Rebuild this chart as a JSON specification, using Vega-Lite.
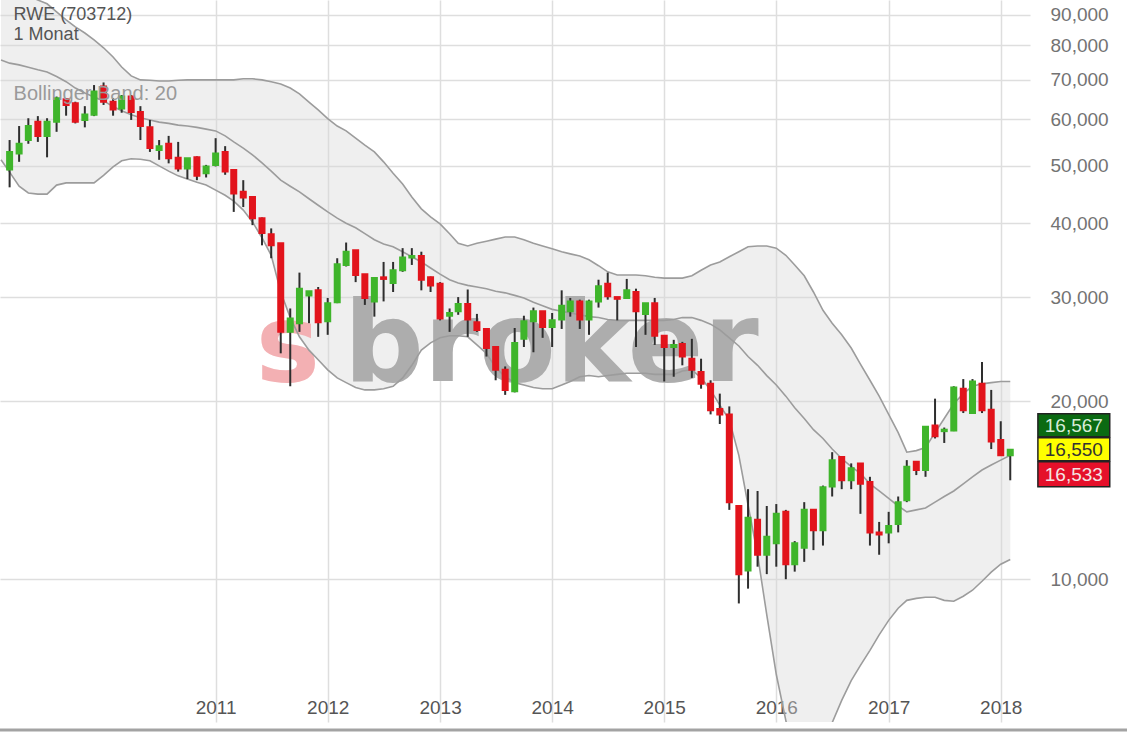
{
"$schema": "https://vega.github.io/schema/vega-lite/v6.json",
"width": 1030, "height": 722,
"autosize": {"type": "none"},
"padding": {"left": 0, "top": 0, "right": 97, "bottom": 10},
"background": "white",
"config": {"view": {"stroke": null}, "font": "Liberation Sans"},
"datasets": {
"candles": [
{"d":"2009-03-01","o":49.3,"h":55.3,"l":46.0,"c":52.8},
{"d":"2009-04-01","o":52.5,"h":58.4,"l":50.8,"c":54.5},
{"d":"2009-05-01","o":55.3,"h":60.2,"l":54.5,"c":58.4},
{"d":"2009-06-01","o":59.4,"h":60.7,"l":54.9,"c":56.2},
{"d":"2009-07-01","o":56.2,"h":60.2,"l":51.7,"c":59.4},
{"d":"2009-08-01","o":59.4,"h":65.5,"l":57.1,"c":65.1},
{"d":"2009-09-01","o":64.8,"h":65.1,"l":60.8,"c":63.4},
{"d":"2009-10-01","o":63.8,"h":64.2,"l":59.0,"c":59.4},
{"d":"2009-11-01","o":59.8,"h":63.1,"l":58.1,"c":61.1},
{"d":"2009-12-01","o":61.0,"h":68.5,"l":60.7,"c":66.8},
{"d":"2010-01-01","o":68.1,"h":69.2,"l":63.4,"c":64.2},
{"d":"2010-02-01","o":64.2,"h":65.1,"l":60.8,"c":62.3},
{"d":"2010-03-01","o":62.5,"h":65.9,"l":61.5,"c":65.5},
{"d":"2010-04-01","o":65.5,"h":65.9,"l":59.8,"c":61.7},
{"d":"2010-05-01","o":61.7,"h":63.1,"l":55.3,"c":58.4},
{"d":"2010-06-01","o":58.1,"h":59.8,"l":52.8,"c":53.6},
{"d":"2010-07-01","o":53.2,"h":55.3,"l":51.2,"c":54.0},
{"d":"2010-08-01","o":54.5,"h":56.2,"l":50.5,"c":51.5},
{"d":"2010-09-01","o":51.6,"h":54.9,"l":48.9,"c":49.5},
{"d":"2010-10-01","o":49.5,"h":51.5,"l":47.5,"c":51.5},
{"d":"2010-11-01","o":51.7,"h":51.9,"l":47.3,"c":48.1},
{"d":"2010-12-01","o":48.6,"h":50.2,"l":47.8,"c":49.9},
{"d":"2011-01-01","o":50.2,"h":55.7,"l":49.9,"c":52.5},
{"d":"2011-02-01","o":52.8,"h":54.0,"l":48.3,"c":48.9},
{"d":"2011-03-01","o":49.2,"h":49.2,"l":41.8,"c":44.9},
{"d":"2011-04-01","o":45.2,"h":47.3,"l":42.6,"c":44.2},
{"d":"2011-05-01","o":44.3,"h":44.4,"l":39.7,"c":40.8},
{"d":"2011-06-01","o":40.8,"h":40.9,"l":36.7,"c":38.5},
{"d":"2011-07-01","o":38.3,"h":39.2,"l":34.9,"c":36.7},
{"d":"2011-08-01","o":37.0,"h":37.0,"l":24.1,"c":26.2},
{"d":"2011-09-01","o":26.2,"h":28.7,"l":21.2,"c":27.6},
{"d":"2011-10-01","o":27.1,"h":33.0,"l":26.2,"c":31.0},
{"d":"2011-11-01","o":30.2,"h":30.7,"l":27.1,"c":30.7},
{"d":"2011-12-01","o":30.8,"h":31.2,"l":25.7,"c":27.2},
{"d":"2012-01-01","o":27.3,"h":29.9,"l":25.9,"c":29.3},
{"d":"2012-02-01","o":29.4,"h":34.9,"l":29.3,"c":34.1},
{"d":"2012-03-01","o":34.0,"h":37.1,"l":33.8,"c":35.8},
{"d":"2012-04-01","o":36.0,"h":36.0,"l":31.8,"c":32.7},
{"d":"2012-05-01","o":32.8,"h":32.8,"l":29.1,"c":29.9},
{"d":"2012-06-01","o":29.5,"h":32.3,"l":27.8,"c":32.3},
{"d":"2012-07-01","o":32.4,"h":34.4,"l":29.5,"c":32.2},
{"d":"2012-08-01","o":31.7,"h":34.4,"l":30.6,"c":33.3},
{"d":"2012-09-01","o":33.3,"h":36.3,"l":33.1,"c":35.0},
{"d":"2012-10-01","o":35.0,"h":36.3,"l":34.0,"c":35.2},
{"d":"2012-11-01","o":35.2,"h":35.8,"l":30.8,"c":32.1},
{"d":"2012-12-01","o":32.4,"h":32.5,"l":30.6,"c":31.4},
{"d":"2013-01-01","o":31.6,"h":31.8,"l":27.4,"c":27.6},
{"d":"2013-02-01","o":27.9,"h":28.7,"l":26.2,"c":28.2},
{"d":"2013-03-01","o":28.4,"h":30.0,"l":28.0,"c":29.2},
{"d":"2013-04-01","o":29.2,"h":30.9,"l":25.7,"c":27.5},
{"d":"2013-05-01","o":27.2,"h":28.1,"l":26.2,"c":26.4},
{"d":"2013-06-01","o":26.5,"h":26.5,"l":23.8,"c":24.6},
{"d":"2013-07-01","o":24.7,"h":24.8,"l":21.7,"c":22.6},
{"d":"2013-08-01","o":22.6,"h":22.9,"l":20.5,"c":20.9},
{"d":"2013-09-01","o":20.8,"h":26.6,"l":20.7,"c":25.1},
{"d":"2013-10-01","o":25.5,"h":27.9,"l":24.7,"c":27.3},
{"d":"2013-11-01","o":27.3,"h":28.8,"l":24.2,"c":28.4},
{"d":"2013-12-01","o":28.4,"h":28.4,"l":25.6,"c":26.7},
{"d":"2014-01-01","o":26.7,"h":28.2,"l":24.7,"c":27.4},
{"d":"2014-02-01","o":27.5,"h":30.8,"l":26.5,"c":29.0},
{"d":"2014-03-01","o":28.4,"h":29.9,"l":27.8,"c":29.5},
{"d":"2014-04-01","o":29.5,"h":29.7,"l":26.5,"c":27.5},
{"d":"2014-05-01","o":27.5,"h":29.7,"l":25.9,"c":29.5},
{"d":"2014-06-01","o":29.5,"h":32.1,"l":28.8,"c":31.3},
{"d":"2014-07-01","o":31.6,"h":33.0,"l":29.7,"c":30.1},
{"d":"2014-08-01","o":30.0,"h":30.0,"l":27.4,"c":29.8},
{"d":"2014-09-01","o":29.9,"h":32.2,"l":29.8,"c":30.8},
{"d":"2014-10-01","o":30.6,"h":31.0,"l":24.7,"c":28.4},
{"d":"2014-11-01","o":28.1,"h":29.3,"l":25.9,"c":29.3},
{"d":"2014-12-01","o":29.3,"h":29.9,"l":24.9,"c":25.8},
{"d":"2015-01-01","o":25.8,"h":25.8,"l":21.6,"c":24.7},
{"d":"2015-02-01","o":24.7,"h":25.4,"l":22.0,"c":24.9},
{"d":"2015-03-01","o":25.0,"h":25.2,"l":23.0,"c":23.8},
{"d":"2015-04-01","o":23.6,"h":25.5,"l":21.9,"c":22.6},
{"d":"2015-05-01","o":22.4,"h":23.6,"l":21.0,"c":21.4},
{"d":"2015-06-01","o":21.4,"h":21.7,"l":19.0,"c":19.3},
{"d":"2015-07-01","o":19.4,"h":20.6,"l":18.3,"c":19.0},
{"d":"2015-08-01","o":19.0,"h":19.6,"l":13.1,"c":13.5},
{"d":"2015-09-01","o":13.3,"h":13.3,"l":9.1,"c":10.2},
{"d":"2015-10-01","o":10.35,"h":14.2,"l":9.64,"c":12.7},
{"d":"2015-11-01","o":12.6,"h":14.1,"l":10.5,"c":11.0},
{"d":"2015-12-01","o":11.0,"h":13.3,"l":10.2,"c":11.8},
{"d":"2016-01-01","o":11.5,"h":13.4,"l":10.5,"c":12.9},
{"d":"2016-02-01","o":13.0,"h":13.1,"l":10.0,"c":10.6},
{"d":"2016-03-01","o":10.6,"h":11.6,"l":10.3,"c":11.5},
{"d":"2016-04-01","o":11.3,"h":13.5,"l":10.7,"c":13.1},
{"d":"2016-05-01","o":13.1,"h":13.1,"l":11.2,"c":12.1},
{"d":"2016-06-01","o":12.1,"h":14.4,"l":11.4,"c":14.3},
{"d":"2016-07-01","o":14.35,"h":16.4,"l":13.8,"c":15.9},
{"d":"2016-08-01","o":16.1,"h":16.1,"l":14.2,"c":14.7},
{"d":"2016-09-01","o":14.7,"h":15.7,"l":14.2,"c":15.4},
{"d":"2016-10-01","o":15.7,"h":15.7,"l":12.9,"c":14.5},
{"d":"2016-11-01","o":14.6,"h":14.9,"l":11.4,"c":12.0},
{"d":"2016-12-01","o":12.0,"h":12.5,"l":11.0,"c":11.9},
{"d":"2017-01-01","o":12.0,"h":13.0,"l":11.5,"c":12.3},
{"d":"2017-02-01","o":12.4,"h":13.8,"l":12.0,"c":13.5},
{"d":"2017-03-01","o":13.6,"h":15.9,"l":13.5,"c":15.5},
{"d":"2017-04-01","o":15.8,"h":15.8,"l":15.0,"c":15.3},
{"d":"2017-05-01","o":15.3,"h":18.1,"l":14.9,"c":18.1},
{"d":"2017-06-01","o":18.2,"h":20.2,"l":17.3,"c":17.45},
{"d":"2017-07-01","o":17.8,"h":18.05,"l":17.0,"c":17.9},
{"d":"2017-08-01","o":17.85,"h":21.2,"l":17.8,"c":21.1},
{"d":"2017-09-01","o":21.0,"h":21.8,"l":19.1,"c":19.3},
{"d":"2017-10-01","o":19.1,"h":21.8,"l":19.1,"c":21.6},
{"d":"2017-11-01","o":21.4,"h":23.3,"l":19.1,"c":19.3},
{"d":"2017-12-01","o":19.35,"h":20.9,"l":16.6,"c":17.1},
{"d":"2018-01-01","o":17.2,"h":18.5,"l":16.2,"c":16.2},
{"d":"2018-02-01","o":16.2,"h":16.55,"l":14.7,"c":16.55}
],
"bands": [
{"d":"2009-02-01","u":101.2,"m":75.5,"lo":51.2},
{"d":"2009-03-01","u":99.9,"m":74.6,"lo":48.8},
{"d":"2009-04-01","u":98.4,"m":74.1,"lo":46.2},
{"d":"2009-05-01","u":97.0,"m":73.4,"lo":45.0},
{"d":"2009-06-01","u":95.4,"m":72.7,"lo":44.8},
{"d":"2009-07-01","u":94.0,"m":72.1,"lo":44.8},
{"d":"2009-08-01","u":91.1,"m":70.8,"lo":46.4},
{"d":"2009-09-01","u":88.3,"m":69.4,"lo":46.8},
{"d":"2009-10-01","u":85.9,"m":67.7,"lo":46.8},
{"d":"2009-11-01","u":83.9,"m":66.4,"lo":46.8},
{"d":"2009-12-01","u":81.7,"m":65.4,"lo":46.8},
{"d":"2010-01-01","u":79.2,"m":64.4,"lo":48.2},
{"d":"2010-02-01","u":76.4,"m":63.0,"lo":49.8},
{"d":"2010-03-01","u":73.5,"m":62.0,"lo":51.0},
{"d":"2010-04-01","u":71.0,"m":61.0,"lo":51.4},
{"d":"2010-05-01","u":69.9,"m":60.3,"lo":51.3},
{"d":"2010-06-01","u":69.8,"m":59.8,"lo":51.0},
{"d":"2010-07-01","u":69.6,"m":59.3,"lo":50.0},
{"d":"2010-08-01","u":69.6,"m":59.0,"lo":49.0},
{"d":"2010-09-01","u":69.8,"m":58.6,"lo":48.1},
{"d":"2010-10-01","u":69.9,"m":58.4,"lo":47.5},
{"d":"2010-11-01","u":69.9,"m":58.1,"lo":46.9},
{"d":"2010-12-01","u":69.9,"m":57.7,"lo":46.4},
{"d":"2011-01-01","u":69.9,"m":57.3,"lo":45.5},
{"d":"2011-02-01","u":69.9,"m":56.2,"lo":44.6},
{"d":"2011-03-01","u":69.9,"m":54.9,"lo":43.6},
{"d":"2011-04-01","u":70.2,"m":53.6,"lo":42.1},
{"d":"2011-05-01","u":70.2,"m":52.2,"lo":40.2},
{"d":"2011-06-01","u":69.9,"m":50.6,"lo":37.8},
{"d":"2011-07-01","u":69.4,"m":49.0,"lo":35.3},
{"d":"2011-08-01","u":68.8,"m":47.3,"lo":30.6},
{"d":"2011-09-01","u":67.7,"m":46.2,"lo":27.7},
{"d":"2011-10-01","u":66.2,"m":45.2,"lo":25.7},
{"d":"2011-11-01","u":64.1,"m":44.0,"lo":24.4},
{"d":"2011-12-01","u":62.2,"m":42.9,"lo":23.5},
{"d":"2012-01-01","u":60.1,"m":41.8,"lo":22.6},
{"d":"2012-02-01","u":58.4,"m":40.8,"lo":21.9},
{"d":"2012-03-01","u":57.3,"m":40.0,"lo":21.5},
{"d":"2012-04-01","u":55.7,"m":39.3,"lo":21.1},
{"d":"2012-05-01","u":54.2,"m":38.4,"lo":20.9},
{"d":"2012-06-01","u":52.8,"m":37.5,"lo":20.9},
{"d":"2012-07-01","u":50.8,"m":36.9,"lo":21.0},
{"d":"2012-08-01","u":48.6,"m":36.5,"lo":21.2},
{"d":"2012-09-01","u":46.6,"m":35.8,"lo":21.9},
{"d":"2012-10-01","u":44.3,"m":35.1,"lo":23.0},
{"d":"2012-11-01","u":42.3,"m":34.4,"lo":24.4},
{"d":"2012-12-01","u":41.0,"m":33.6,"lo":25.1},
{"d":"2013-01-01","u":39.9,"m":32.8,"lo":25.6},
{"d":"2013-02-01","u":38.4,"m":32.1,"lo":25.8},
{"d":"2013-03-01","u":37.0,"m":31.7,"lo":25.8},
{"d":"2013-04-01","u":36.6,"m":31.4,"lo":25.7},
{"d":"2013-05-01","u":37.0,"m":31.2,"lo":24.9},
{"d":"2013-06-01","u":37.3,"m":31.0,"lo":24.1},
{"d":"2013-07-01","u":37.6,"m":30.7,"lo":22.8},
{"d":"2013-08-01","u":37.9,"m":30.5,"lo":22.0},
{"d":"2013-09-01","u":37.9,"m":30.2,"lo":21.5},
{"d":"2013-10-01","u":37.5,"m":29.9,"lo":21.3},
{"d":"2013-11-01","u":37.0,"m":29.4,"lo":21.1},
{"d":"2013-12-01","u":36.6,"m":29.0,"lo":21.0},
{"d":"2014-01-01","u":36.2,"m":28.6,"lo":21.0},
{"d":"2014-02-01","u":35.8,"m":28.4,"lo":21.3},
{"d":"2014-03-01","u":35.5,"m":28.2,"lo":21.6},
{"d":"2014-04-01","u":35.2,"m":28.0,"lo":22.0},
{"d":"2014-05-01","u":34.7,"m":27.8,"lo":22.1},
{"d":"2014-06-01","u":33.9,"m":27.7,"lo":22.0},
{"d":"2014-07-01","u":33.1,"m":27.5,"lo":22.1},
{"d":"2014-08-01","u":32.7,"m":27.4,"lo":22.2},
{"d":"2014-09-01","u":32.7,"m":27.4,"lo":22.3},
{"d":"2014-10-01","u":32.7,"m":27.4,"lo":22.3},
{"d":"2014-11-01","u":32.6,"m":27.4,"lo":22.3},
{"d":"2014-12-01","u":32.4,"m":27.4,"lo":22.2},
{"d":"2015-01-01","u":32.3,"m":27.4,"lo":22.2},
{"d":"2015-02-01","u":32.3,"m":27.5,"lo":22.2},
{"d":"2015-03-01","u":32.3,"m":27.7,"lo":22.5},
{"d":"2015-04-01","u":32.6,"m":27.7,"lo":22.6},
{"d":"2015-05-01","u":33.3,"m":27.4,"lo":21.9},
{"d":"2015-06-01","u":34.0,"m":27.0,"lo":20.9},
{"d":"2015-07-01","u":34.4,"m":26.4,"lo":19.7},
{"d":"2015-08-01","u":35.1,"m":25.6,"lo":18.6},
{"d":"2015-09-01","u":35.8,"m":24.8,"lo":16.2},
{"d":"2015-10-01","u":36.5,"m":23.8,"lo":13.35},
{"d":"2015-11-01","u":36.6,"m":23.0,"lo":11.0},
{"d":"2015-12-01","u":36.6,"m":22.1,"lo":8.7},
{"d":"2016-01-01","u":36.3,"m":21.3,"lo":6.9},
{"d":"2016-02-01","u":35.3,"m":20.4,"lo":5.77},
{"d":"2016-03-01","u":34.0,"m":19.5,"lo":4.94},
{"d":"2016-04-01","u":32.6,"m":18.7,"lo":4.4},
{"d":"2016-05-01","u":30.6,"m":17.9,"lo":4.4},
{"d":"2016-06-01","u":28.5,"m":17.3,"lo":4.85},
{"d":"2016-07-01","u":27.1,"m":16.6,"lo":5.72},
{"d":"2016-08-01","u":25.9,"m":16.0,"lo":6.24},
{"d":"2016-09-01","u":24.6,"m":15.5,"lo":6.74},
{"d":"2016-10-01","u":23.1,"m":15.1,"lo":7.15},
{"d":"2016-11-01","u":21.7,"m":14.5,"lo":7.58},
{"d":"2016-12-01","u":20.4,"m":14.1,"lo":8.05},
{"d":"2017-01-01","u":19.0,"m":13.7,"lo":8.52},
{"d":"2017-02-01","u":17.7,"m":13.3,"lo":8.93},
{"d":"2017-03-01","u":16.4,"m":13.0,"lo":9.21},
{"d":"2017-04-01","u":16.5,"m":13.1,"lo":9.28},
{"d":"2017-05-01","u":16.7,"m":13.2,"lo":9.32},
{"d":"2017-06-01","u":17.7,"m":13.5,"lo":9.32},
{"d":"2017-07-01","u":18.7,"m":13.8,"lo":9.21},
{"d":"2017-08-01","u":19.8,"m":14.1,"lo":9.18},
{"d":"2017-09-01","u":20.6,"m":14.5,"lo":9.36},
{"d":"2017-10-01","u":21.2,"m":14.9,"lo":9.58},
{"d":"2017-11-01","u":21.4,"m":15.3,"lo":9.92},
{"d":"2017-12-01","u":21.5,"m":15.6,"lo":10.28},
{"d":"2018-01-01","u":21.6,"m":15.9,"lo":10.6},
{"d":"2018-02-01","u":21.6,"m":16.2,"lo":10.8}
]
},
"layer": [
{
"data": {"name": "bands"},
"mark": {"type": "area", "clip": true, "fill": "#d6d6d6", "fillOpacity": 0.4},
"encoding": {
"x": {"field": "d", "type": "temporal",
"scale": {"type": "utc", "domain": [{"year": 2009, "month": 2, "date": 14, "utc": true}, {"year": 2018, "month": 3, "date": 21, "utc": true}]},
"axis": {"title": null, "orient": "bottom", "format": "%Y", "formatType": "utc",
"values": [{"year": 2011, "month": 1, "date": 1, "utc": true}, {"year": 2012, "month": 1, "date": 1, "utc": true}, {"year": 2013, "month": 1, "date": 1, "utc": true}, {"year": 2014, "month": 1, "date": 1, "utc": true}, {"year": 2015, "month": 1, "date": 1, "utc": true}, {"year": 2016, "month": 1, "date": 1, "utc": true}, {"year": 2017, "month": 1, "date": 1, "utc": true}, {"year": 2018, "month": 1, "date": 1, "utc": true}],
"offset": -30, "labelPadding": 6, "ticks": false, "domain": false, "grid": true, "gridColor": "#dedede", "gridWidth": 1.5,
"labelFontSize": 19, "labelColor": "#555555", "labelFlush": false, "labelOverlap": false}},
"y": {"field": "u", "type": "quantitative",
"scale": {"type": "log", "domain": [5.735, 95.4], "nice": false},
"axis": {"title": null, "orient": "right", "values": [10, 20, 30, 40, 50, 60, 70, 80, 90],
"labelExpr": "replace(format(datum.value, '.3f'), '.', ',')",
"ticks": false, "domain": false, "labelPadding": 20, "grid": true, "gridColor": "#dedede", "gridWidth": 1.5,
"labelFontSize": 19, "labelColor": "#737373", "labelOverlap": false, "labelFlush": false}},
"y2": {"field": "lo"}
}
},
{
"data": {"values": [{"t": "s"}]},
"mark": {"type": "text", "align": "left", "baseline": "alphabetic", "font": "DejaVu Sans", "fontWeight": "bold", "fontSize": 108, "color": "#f3b0b3"},
"encoding": {
"x": {"datum": {"year": 2011, "month": 5, "date": 12, "utc": true}, "type": "temporal"},
"y": {"datum": 21.64, "type": "quantitative"},
"text": {"field": "t"}
}
},
{
"data": {"values": [{"t": "broker"}]},
"mark": {"type": "text", "align": "left", "baseline": "alphabetic", "font": "DejaVu Sans", "fontWeight": "bold", "fontSize": 112, "color": "#adadad"},
"encoding": {
"x": {"datum": {"year": 2012, "month": 2, "date": 22, "utc": true}, "type": "temporal"},
"y": {"datum": 21.64, "type": "quantitative"},
"text": {"field": "t"}
}
},
{
"data": {"name": "bands"},
"mark": {"type": "line", "clip": true, "color": "#9c9c9c", "strokeWidth": 1.6},
"encoding": {"x": {"field": "d", "type": "temporal"}, "y": {"field": "u", "type": "quantitative"}}
},
{
"data": {"name": "bands"},
"mark": {"type": "line", "clip": true, "color": "#9c9c9c", "strokeWidth": 1.6},
"encoding": {"x": {"field": "d", "type": "temporal"}, "y": {"field": "m", "type": "quantitative"}}
},
{
"data": {"name": "bands"},
"mark": {"type": "line", "clip": true, "color": "#9c9c9c", "strokeWidth": 1.6},
"encoding": {"x": {"field": "d", "type": "temporal"}, "y": {"field": "lo", "type": "quantitative"}}
},
{
"data": {"name": "candles"},
"mark": {"type": "rule", "color": "#2e2e2e", "strokeWidth": 2},
"encoding": {"x": {"field": "d", "type": "temporal"}, "y": {"field": "l", "type": "quantitative"}, "y2": {"field": "h"}}
},
{
"data": {"name": "candles"},
"mark": {"type": "bar", "width": 5, "strokeWidth": 2},
"encoding": {
"x": {"field": "d", "type": "temporal"},
"y": {"field": "o", "type": "quantitative"},
"y2": {"field": "c"},
"fill": {"condition": {"test": "datum.c >= datum.o", "value": "#3fb52b"}, "value": "#e2141c"},
"stroke": {"condition": {"test": "datum.c >= datum.o", "value": "#3fb52b"}, "value": "#e2141c"}
}
},
{
"data": {"values": [{"t": "RWE (703712)"}]},
"mark": {"type": "text", "align": "left", "baseline": "alphabetic", "fontSize": 18, "color": "#555555"},
"encoding": {
"x": {"datum": {"year": 2009, "month": 3, "date": 14, "utc": true}, "type": "temporal"},
"y": {"datum": 88.4, "type": "quantitative"},
"text": {"field": "t"}
}
},
{
"data": {"values": [{"t": "1 Monat"}]},
"mark": {"type": "text", "align": "left", "baseline": "alphabetic", "fontSize": 18, "color": "#555555"},
"encoding": {
"x": {"datum": {"year": 2009, "month": 3, "date": 14, "utc": true}, "type": "temporal"},
"y": {"datum": 81.6, "type": "quantitative"},
"text": {"field": "t"}
}
},
{
"data": {"values": [{"t": "Bollinger Band: 20"}]},
"mark": {"type": "text", "align": "left", "baseline": "alphabetic", "fontSize": 20, "color": "#9a9a9a"},
"encoding": {
"x": {"datum": {"year": 2009, "month": 3, "date": 14, "utc": true}, "type": "temporal"},
"y": {"datum": 64.7, "type": "quantitative"},
"text": {"field": "t"}
}
},
{
"data": {"values": [{"t": "border"}]},
"mark": {"type": "rule", "clip": false, "color": "#a3a3a3", "strokeWidth": 3},
"encoding": {
"x": {"datum": {"year": 2009, "month": 1, "date": 1, "utc": true}, "type": "temporal"},
"x2": {"datum": {"year": 2019, "month": 3, "date": 1, "utc": true}},
"y": {"datum": 5.56, "type": "quantitative"}
}
},
{
"data": {"values": [{"t": "16,567"}]},
"mark": {"type": "rect", "clip": false, "fill": "#0b6a12", "stroke": "#222222", "strokeWidth": 1.5, "yOffset": -36, "y2Offset": -13},
"encoding": {
"x": {"datum": {"year": 2018, "month": 5, "date": 2, "utc": true}, "type": "temporal"},
"x2": {"datum": {"year": 2018, "month": 12, "date": 22, "utc": true}},
"y": {"datum": 16.55, "type": "quantitative"},
"y2": {"datum": 16.55}
}
},
{
"data": {"values": [{"t": "16,550"}]},
"mark": {"type": "rect", "clip": false, "fill": "#ffff00", "stroke": "#222222", "strokeWidth": 1.5, "yOffset": -12, "y2Offset": 11},
"encoding": {
"x": {"datum": {"year": 2018, "month": 5, "date": 2, "utc": true}, "type": "temporal"},
"x2": {"datum": {"year": 2018, "month": 12, "date": 22, "utc": true}},
"y": {"datum": 16.55, "type": "quantitative"},
"y2": {"datum": 16.55}
}
},
{
"data": {"values": [{"t": "16,533"}]},
"mark": {"type": "rect", "clip": false, "fill": "#e5102a", "stroke": "#222222", "strokeWidth": 1.5, "yOffset": 12, "y2Offset": 37},
"encoding": {
"x": {"datum": {"year": 2018, "month": 5, "date": 2, "utc": true}, "type": "temporal"},
"x2": {"datum": {"year": 2018, "month": 12, "date": 22, "utc": true}},
"y": {"datum": 16.55, "type": "quantitative"},
"y2": {"datum": 16.55}
}
},
{
"data": {"values": [{"t": "16,567"}]},
"mark": {"type": "text", "clip": false, "align": "center", "baseline": "middle", "fontSize": 19, "color": "#d8ecd8", "yOffset": -24},
"encoding": {
"x": {"datum": {"year": 2018, "month": 8, "date": 27, "utc": true}, "type": "temporal"},
"y": {"datum": 16.55, "type": "quantitative"},
"text": {"field": "t"}
}
},
{
"data": {"values": [{"t": "16,550"}]},
"mark": {"type": "text", "clip": false, "align": "center", "baseline": "middle", "fontSize": 19, "color": "#333333", "yOffset": 0},
"encoding": {
"x": {"datum": {"year": 2018, "month": 8, "date": 27, "utc": true}, "type": "temporal"},
"y": {"datum": 16.55, "type": "quantitative"},
"text": {"field": "t"}
}
},
{
"data": {"values": [{"t": "16,533"}]},
"mark": {"type": "text", "clip": false, "align": "center", "baseline": "middle", "fontSize": 19, "color": "#f4e4e4", "yOffset": 25},
"encoding": {
"x": {"datum": {"year": 2018, "month": 8, "date": 27, "utc": true}, "type": "temporal"},
"y": {"datum": 16.55, "type": "quantitative"},
"text": {"field": "t"}
}
}
]
}
